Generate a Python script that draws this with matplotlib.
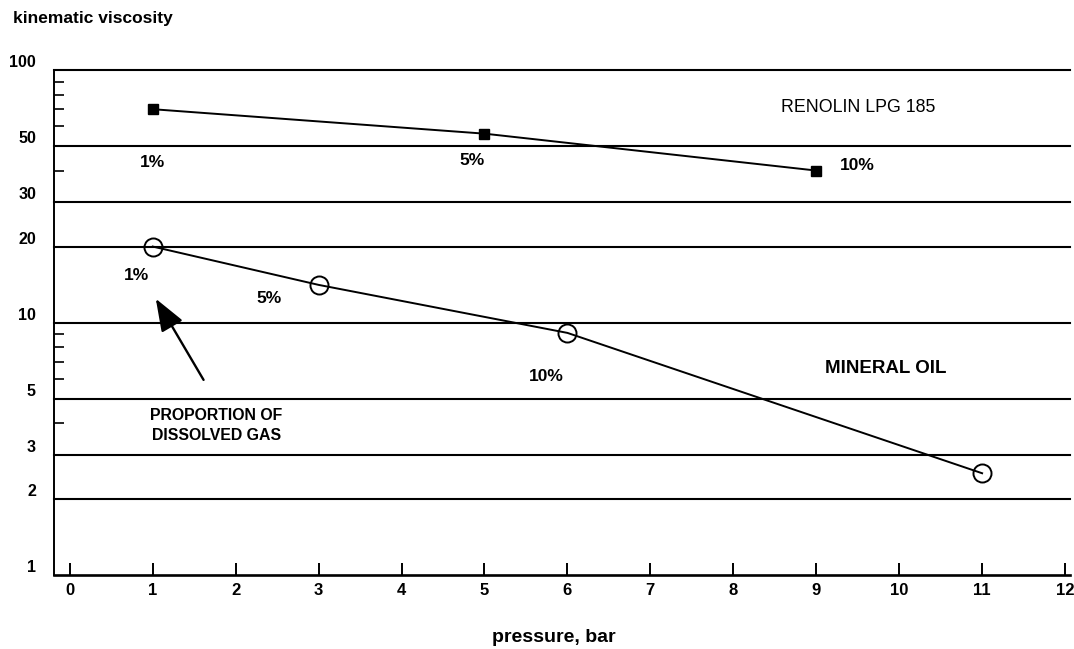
import numpy as np
import matplotlib.pyplot as plt
from matplotlib.ticker import FixedLocator, NullFormatter

plt.rcParams['font.family'] = ['Liberation Sans', 'DejaVu Sans']

# data
renolin_p = [1, 5, 9]
renolin_v = [70, 56, 40]
renolin_lbl = ['1%', '5%', '10%']

mineral_p = [1, 3, 6, 11]
mineral_v = [20, 14.1, 9.1, 2.53]
mineral_lbl = ['1%', '5%', '10%']

y_major = [1, 2, 3, 5, 10, 20, 30, 50, 100]
y_minor = [4, 6, 7, 8, 9, 40, 60, 70, 80, 90]
x_ticks = list(range(0, 13))


def main():
    fig = plt.figure(figsize=(10.74, 6.49), dpi=100)
    ax = fig.add_axes([0.0503, 0.114, 0.946, 0.778])
    ax.set_yscale('log')
    ax.set_ylim(1, 100)
    ax.set_xlim(-0.19, 12.06)

    for v in y_major[1:]:
        ax.axhline(v, color='black', lw=1.5, zorder=1, clip_on=False)

    ax.plot(renolin_p, renolin_v, color='black', lw=1.4, marker='s',
            ms=7.5, mfc='black', mec='black', zorder=3)
    ax.plot(mineral_p, mineral_v, color='black', lw=1.4, marker='o',
            ms=13, mfc='none', mec='black', mew=1.4, zorder=3)

    # percentage labels
    bold = dict(fontsize=12.5, fontweight='bold', ha='center', va='center')
    ax.text(1.0, 43.2, renolin_lbl[0], **bold)
    ax.text(4.85, 44.0, renolin_lbl[1], **bold)
    ax.text(9.5, 41.8, renolin_lbl[2], **bold)
    ax.text(0.8, 15.3, mineral_lbl[0], **bold)
    ax.text(2.4, 12.4, mineral_lbl[1], **bold)
    ax.text(5.75, 6.1, mineral_lbl[2], **bold)

    ax.text(9.5, 71, 'RENOLIN LPG 185', fontsize=12.8, ha='center', va='center')
    ax.text(9.84, 6.55, 'MINERAL OIL', fontsize=13.5, fontweight='bold',
            ha='center', va='center')
    ax.text(1.77, 3.92, 'PROPORTION OF\nDISSOLVED GAS', fontsize=11.4,
            fontweight='bold', ha='center', va='center', linespacing=1.45)

    ax.annotate('', xy=(1.02, 12.7), xytext=(1.63, 5.8),
                arrowprops=dict(arrowstyle='-|>,head_length=2.0,head_width=0.75',
                                color='black', lw=1.7))

    # axes styling
    ax.spines['top'].set_visible(False)
    ax.spines['right'].set_visible(False)
    ax.spines['left'].set_linewidth(1.4)
    ax.spines['bottom'].set_linewidth(1.9)

    ax.yaxis.set_major_locator(FixedLocator(y_major))
    ax.yaxis.set_minor_locator(FixedLocator(y_minor))
    ax.yaxis.set_minor_formatter(NullFormatter())
    ax.set_yticklabels([str(v) for v in y_major])
    ax.tick_params(axis='y', which='major', length=0, pad=13, labelsize=11.5)
    ax.tick_params(axis='y', which='minor', direction='in', length=7, width=1.2)
    for lab in ax.get_yticklabels():
        lab.set_fontweight('bold')
        lab.set_verticalalignment('bottom')

    ax.set_xticks(x_ticks)
    ax.tick_params(axis='x', which='major', direction='in', length=9, width=1.4,
                   pad=6, labelsize=12)
    for lab in ax.get_xticklabels():
        lab.set_fontweight('bold')

    fig.text(0.012, 0.972, 'kinematic viscosity', fontsize=12.5, fontweight='bold',
             ha='left', va='center')
    fig.text(0.516, 0.017, 'pressure, bar', fontsize=14, fontweight='bold',
             ha='center', va='center')

    fig.savefig('out.png', dpi=100)


if __name__ == '__main__':
    main()
